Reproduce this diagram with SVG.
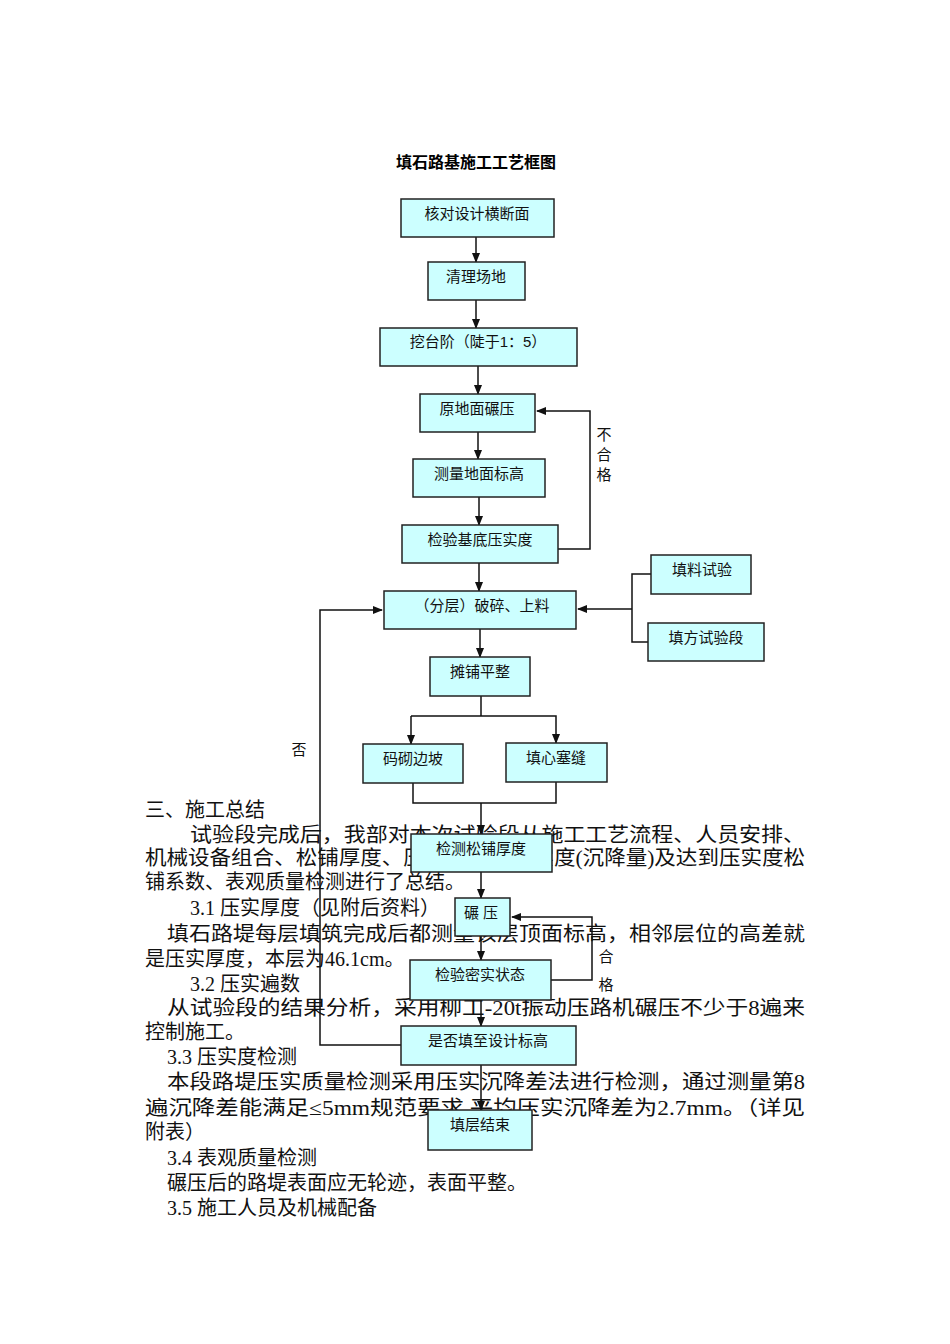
<svg xmlns="http://www.w3.org/2000/svg" width="950" height="1344" viewBox="0 0 950 1344">
<style>
.b{fill:#ccffff;stroke:#222;stroke-width:1.5}
.t{font-family:"Liberation Sans","Noto Sans CJK SC",sans-serif;font-size:15px;text-anchor:middle;fill:#111}
.p{font-family:"Liberation Serif","Noto Sans CJK SC",serif;font-size:20px;fill:#111}
.c{fill:none;stroke:#111;stroke-width:1.5}
.a{fill:none;stroke:#111;stroke-width:1.5;marker-end:url(#ar)}
</style>
<defs><marker id="ar" markerWidth="10" markerHeight="8" refX="9" refY="4" orient="auto" markerUnits="userSpaceOnUse"><path d="M0,0 L10,4 L0,8 Z" fill="#111"/></marker></defs>
<rect width="950" height="1344" fill="#fff"/>
<text x="476" y="168" style="font-family:'Liberation Sans','Noto Sans CJK SC',sans-serif;font-size:16px;font-weight:bold;text-anchor:middle">填石路基施工工艺框图</text>
<g id="body">
<text class="p" x="145" y="817">三、施工总结</text>
<text class="p" x="190" y="842" textLength="615" lengthAdjust="spacingAndGlyphs">试验段完成后，我部对本次试验段从施工工艺流程、人员安排、</text>
<text class="p" x="145" y="865" textLength="660" lengthAdjust="spacingAndGlyphs">机械设备组合、松铺厚度、压实遍数、压实度(沉降量)及达到压实度松</text>
<text class="p" x="145" y="889">铺系数、表观质量检测进行了总结。</text>
<text class="p" x="190" y="915">3.1 压实厚度（见附后资料）</text>
<text class="p" x="167" y="941" textLength="638" lengthAdjust="spacingAndGlyphs">填石路堤每层填筑完成后都测量该层顶面标高，相邻层位的高差就</text>
<text class="p" x="145" y="966">是压实厚度，本层为46.1cm。</text>
<text class="p" x="190" y="991">3.2  压实遍数</text>
<text class="p" x="167" y="1015" textLength="638" lengthAdjust="spacingAndGlyphs">从试验段的结果分析，采用柳工-20t振动压路机碾压不少于8遍来</text>
<text class="p" x="145" y="1039">控制施工。</text>
<text class="p" x="167" y="1064">3.3 压实度检测</text>
<text class="p" x="167" y="1089" textLength="638" lengthAdjust="spacingAndGlyphs">本段路堤压实质量检测采用压实沉降差法进行检测，通过测量第8</text>
<text class="p" x="145" y="1115" textLength="660" lengthAdjust="spacingAndGlyphs">遍沉降差能满足≤5mm规范要求,平均压实沉降差为2.7mm。（详见</text>
<text class="p" x="145" y="1139">附表）</text>
<text class="p" x="167" y="1165">3.4 表观质量检测</text>
<text class="p" x="167" y="1190">碾压后的路堤表面应无轮迹，表面平整。</text>
<text class="p" x="167" y="1215">3.5 施工人员及机械配备</text>
</g>
<g id="connectors">
<path class="a" d="M476,237 V262"/>
<path class="a" d="M476,300 V328"/>
<path class="a" d="M478,366 V394"/>
<path class="a" d="M478,432 V459"/>
<path class="a" d="M479,497 V525"/>
<path class="a" d="M479,563 V591"/>
<path class="a" d="M480,629 V657"/>
<path class="a" d="M558,549 H590 V411 H537"/>
<path class="c" d="M651,574 H632 V642 H648"/>
<path class="a" d="M632,609 H578"/>
<path class="c" d="M481,696 V716"/>
<path class="a" d="M411,716 H556 V743"/>
<path class="a" d="M411,716 V744"/>
<path class="c" d="M413,783 V803 H556 V782"/>
<path class="a" d="M481,803 V834"/>
<path class="a" d="M481,872 V898"/>
<path class="a" d="M481,936 V960"/>
<path class="a" d="M551,980 H592 V917 H512"/>
<path class="a" d="M481,1000 V1026"/>
<path class="a" d="M401,1045 H320 V610 H382"/>
<path class="a" d="M481,1065 V1110"/>
<text class="t" x="604" y="440">不</text>
<text class="t" x="604" y="460">合</text>
<text class="t" x="604" y="480">格</text>
<text class="t" x="299" y="755">否</text>
<text class="t" x="606" y="962">合</text>
<text class="t" x="606" y="990">格</text>
</g>
<g id="n1"><rect class="b" x="401" y="199" width="153" height="38"/><text class="t" x="477" y="219">核对设计横断面</text></g>
<g id="n2"><rect class="b" x="428" y="262" width="97" height="38"/><text class="t" x="476" y="282">清理场地</text></g>
<g id="n3"><rect class="b" x="380" y="328" width="197" height="38"/><text class="t" x="478" y="347">挖台阶（陡于1：5）</text></g>
<g id="n4"><rect class="b" x="420" y="394" width="115" height="38"/><text class="t" x="477" y="414">原地面碾压</text></g>
<g id="n5"><rect class="b" x="413" y="459" width="132" height="38"/><text class="t" x="479" y="479">测量地面标高</text></g>
<g id="n6"><rect class="b" x="402" y="525" width="156" height="38"/><text class="t" x="480" y="545">检验基底压实度</text></g>
<g id="n7"><rect class="b" x="384" y="591" width="192" height="38"/><text class="t" x="482" y="611">（分层）破碎、上料</text></g>
<g id="n8"><rect class="b" x="651" y="555" width="100" height="39"/><text class="t" x="702" y="575">填料试验</text></g>
<g id="n9"><rect class="b" x="648" y="623" width="116" height="38"/><text class="t" x="706" y="643">填方试验段</text></g>
<g id="n10"><rect class="b" x="430" y="657" width="100" height="39"/><text class="t" x="480" y="677">摊铺平整</text></g>
<g id="n11"><rect class="b" x="363" y="744" width="100" height="39"/><text class="t" x="413" y="764">码砌边坡</text></g>
<g id="n12"><rect class="b" x="506" y="743" width="101" height="39"/><text class="t" x="556" y="763">填心塞缝</text></g>
<g id="n13"><rect class="b" x="411" y="834" width="141" height="38"/><text class="t" x="481" y="854">检测松铺厚度</text></g>
<g id="n14"><rect class="b" x="455" y="898" width="55" height="38"/><text class="t" x="481" y="918">碾  压</text></g>
<g id="n15"><rect class="b" x="410" y="960" width="141" height="40"/><text class="t" x="480" y="980">检验密实状态</text></g>
<g id="n16"><rect class="b" x="401" y="1026" width="175" height="39"/><text class="t" x="488" y="1046">是否填至设计标高</text></g>
<g id="n17"><rect class="b" x="428" y="1110" width="104" height="40"/><text class="t" x="480" y="1130">填层结束</text></g>
</svg>
